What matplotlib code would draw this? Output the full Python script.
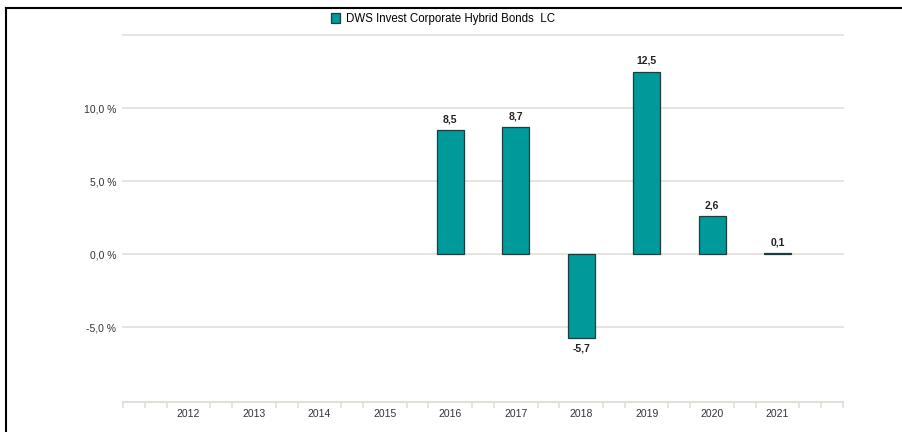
import matplotlib.pyplot as plt
import numpy as np
from matplotlib.lines import Line2D
from matplotlib.ticker import FixedLocator

plt.rcParams['font.family'] = ['Liberation Sans', 'DejaVu Sans']

years = ['2012', '2013', '2014', '2015', '2016', '2017', '2018', '2019', '2020', '2021']
values = [np.nan, np.nan, np.nan, np.nan, 8.5, 8.7, -5.7, 12.5, 2.6, 0.1]
series_name = 'DWS Invest Corporate Hybrid Bonds  LC'
ytick_vals = [-5, 0, 5, 10]

teal = '#009a9a'
grid_c = '#e2dfd8'

fig = plt.figure(figsize=(9.03, 4.32), dpi=100)
ax = fig.add_axes([123/903, 1-402/432, 720/903, 367/432])

x = np.arange(len(years))
vals = np.array(values, dtype=float)
ok = ~np.isnan(vals)
ax.set_xlim(-1, len(years))
ax.set_ylim(-10.1, 15)

for g in [-5, 0, 5, 10, 15]:
    ax.axhline(g, color=grid_c, lw=1.2, zorder=1, clip_on=False)

bars = ax.bar(x[ok], vals[ok], width=0.41, color=teal,
              edgecolor='#1c3d3d', linewidth=0.9, zorder=3, label=series_name)

for xi, v in zip(x[ok], vals[ok]):
    txt = ('%.1f' % v).replace('.', ',')
    if v >= 0:
        ax.annotate(txt, (xi, v), xytext=(0, 4), textcoords='offset points',
                    ha='center', va='bottom', fontsize=7.5, fontweight='bold', color='#222222')
    else:
        ax.annotate(txt, (xi, v), xytext=(0, -4), textcoords='offset points',
                    ha='center', va='top', fontsize=7.5, fontweight='bold', color='#222222')

for s in ['top', 'right', 'left']:
    ax.spines[s].set_visible(False)
ax.spines['bottom'].set_color(grid_c)
ax.spines['bottom'].set_linewidth(1.5)

ax.set_xticks(x)
ax.set_xticklabels(years, fontsize=7.5, color='#333333')
ax.tick_params(axis='x', which='major', length=0, pad=5)
minor = [k/3 for k in range(-3, 3*len(years)+1) if k % 3 != 0 or k/3 < 0 or k/3 > len(years)-1]
ax.xaxis.set_minor_locator(FixedLocator(minor))
ax.tick_params(axis='x', which='minor', length=4, color=grid_c, width=1.2)

ax.set_yticks(ytick_vals)
ax.set_yticklabels([('%.1f %%' % v).replace('.', ',') for v in ytick_vals],
                   fontsize=7.5, color='#333333')
ax.tick_params(axis='y', length=0, pad=5)

leg = fig.legend(handles=[bars], labels=[series_name], loc='center',
                 bbox_to_anchor=(443/903, 1-19/432), frameon=False, fontsize=8.3,
                 handlelength=0.85, handleheight=0.85, handletextpad=0.5)

fig.add_artist(Line2D([6.5/903, 6.5/903], [0, 1-8/432], color='black', lw=1.5))
fig.add_artist(Line2D([6/903, 1], [1-8/432, 1-8/432], color='black', lw=1.5))

fig.savefig('out.png', dpi=100)
